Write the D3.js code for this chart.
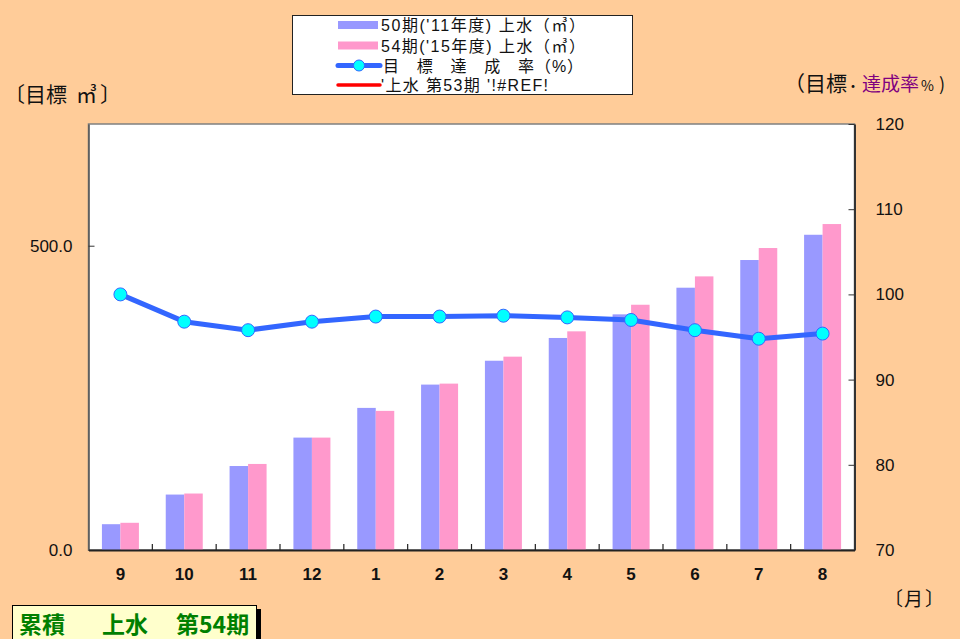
<!DOCTYPE html>
<html><head><meta charset="utf-8">
<script src="https://cdn.jsdelivr.net/npm/d3@7"></script>
<style>
html,body{margin:0;padding:0;background:#FFCC99;}
svg{display:block;}
</style></head>
<body>
<svg id="c" width="960" height="639"></svg>
<script>
const months = ["9","10","11","12","1","2","3","4","5","6","7","8"];
const series50 = [42.4, 91.1, 138.0, 184.7, 233.5, 271.8, 311.0, 348.4, 387.2, 431.0, 476.5, 518.0];
const series54 = [44.7, 92.8, 141.4, 184.7, 228.6, 273.4, 317.7, 359.3, 403.0, 449.6, 496.2, 535.6];
const rate = [100.0, 96.8, 95.8, 96.8, 97.4, 97.4, 97.5, 97.3, 97.0, 95.8, 94.8, 95.4];
const leftTicks = [0, 500];
const rightTicks = [70, 80, 90, 100, 110, 120];
const legendLabels = ["50期('11年度) 上水（㎥）", "54期('15年度) 上水（㎥）", "目　標　達　成　率（%）", "'上水 第53期 '!#REF!"];
const legendWidths = [204, 204, 200, 167];

const svg = d3.select("#c");
const jp = "'Noto Sans CJK JP', 'Liberation Sans', sans-serif";
const latjp = "'Liberation Sans', 'Noto Sans CJK JP', sans-serif";
const num = "'Liberation Sans', Arial, sans-serif";

svg.append("rect").attr("width",960).attr("height",639).attr("fill","#FFCC99");

const L = 88.5, R = 854.5, T = 124, B = 550;
const x = d3.scaleBand().domain(months).range([L, R]).paddingInner(0).paddingOuter(0);
const yL = d3.scaleLinear().domain([0, 700]).range([B, T]);
const yR = d3.scaleLinear().domain([70, 120]).range([B, T]);

// plot area
svg.append("rect").attr("x",L).attr("y",T).attr("width",R-L).attr("height",B-T)
  .attr("fill","#fff").attr("stroke","#808080").attr("stroke-width",1.5);

// bars
const bw = 18.5;
const g = svg.append("g");
months.forEach((m,i)=>{
  const cx = x(m) + x.bandwidth()/2;
  g.append("rect").attr("x", cx - bw).attr("width", bw)
    .attr("y", yL(series50[i])).attr("height", yL(0)-yL(series50[i]))
    .attr("fill","#9999FF");
  g.append("rect").attr("x", cx).attr("width", bw)
    .attr("y", yL(series54[i])).attr("height", yL(0)-yL(series54[i]))
    .attr("fill","#FF99CC");
});

// axes
const axL = d3.axisLeft(yL).tickValues(leftTicks).tickFormat(d3.format(".1f")).tickSizeInner(-6).tickSizeOuter(0).tickPadding(16);
const gl = svg.append("g").attr("transform",`translate(${L},0)`).call(axL);
gl.select(".domain").attr("stroke","#555").attr("stroke-width",1.5);
gl.selectAll(".tick line").attr("stroke","#333");
gl.selectAll("text").attr("font-family",num).attr("font-size",17).attr("fill","#111");

const axR = d3.axisRight(yR).tickValues(rightTicks).tickSizeInner(-6).tickSizeOuter(0).tickPadding(21);
const gr = svg.append("g").attr("transform",`translate(${R},0)`).call(axR);
gr.select(".domain").attr("stroke","#333").attr("stroke-width",2);
gr.selectAll(".tick line").attr("stroke","#333");
gr.selectAll("text").attr("font-family",num).attr("font-size",17).attr("fill","#111");

const axB = d3.axisBottom(x).tickSize(0).tickPadding(18);
const gb = svg.append("g").attr("transform",`translate(0,${B})`).call(axB);
gb.select(".domain").attr("stroke","#222").attr("stroke-width",2);
gb.selectAll("text").attr("font-family",num).attr("font-size",17).attr("font-weight","bold").attr("fill","#111");
months.slice(1).forEach(m=>{
  svg.append("line").attr("x1",x(m)).attr("x2",x(m)).attr("y1",B).attr("y2",B-6).attr("stroke","#222").attr("stroke-width",1.2);
});

// line
const line = d3.line().x((d,i)=>x(months[i])+x.bandwidth()/2).y(d=>yR(d));
svg.append("path").datum(rate).attr("d",line).attr("fill","none").attr("stroke","#3366FF").attr("stroke-width",5).attr("stroke-linejoin","round");
svg.selectAll(".pt").data(rate).enter().append("circle")
  .attr("cx",(d,i)=>x(months[i])+x.bandwidth()/2).attr("cy",d=>yR(d)).attr("r",6.5)
  .attr("fill","#00FFFF").attr("stroke","#3366FF").attr("stroke-width",1);

// left axis title
const lt = svg.append("text").attr("y",102).attr("font-family",jp).attr("font-size",21).attr("fill","#111");
lt.append("tspan").attr("x",4).text("〔");
lt.append("tspan").attr("x",25).text("目標");
lt.append("tspan").attr("x",76).text("㎥");
lt.append("tspan").attr("x",100).text("〕");

// right axis title
const rt = svg.append("text").attr("y",91).attr("font-family",jp).attr("font-size",21).attr("fill","#111");
rt.append("tspan").attr("x",784).text("（");
rt.append("tspan").attr("x",805).text("目標");
rt.append("tspan").attr("x",846).attr("font-size",14).text("・");
rt.append("tspan").attr("x",862).attr("font-size",19).attr("fill","#800080").text("達成率");
rt.append("tspan").attr("x",921).attr("font-size",14).text("%");
rt.append("tspan").attr("x",939).attr("font-size",18).text(")");

// month unit
const mt = svg.append("text").attr("y",606).attr("font-family",jp).attr("font-size",19).attr("fill","#111");
mt.append("tspan").attr("x",884).text("〔");
mt.append("tspan").attr("x",904).text("月");
mt.append("tspan").attr("x",925).text("〕");

// legend
const lg = svg.append("g");
lg.append("rect").attr("x",292.5).attr("y",15.5).attr("width",340).attr("height",79).attr("fill","#fff").attr("stroke","#222").attr("stroke-width",1);
const ly = [25, 45.5, 65.5, 85];
lg.append("rect").attr("x",338).attr("y",ly[0]-4).attr("width",40).attr("height",8).attr("fill","#9999FF");
lg.append("rect").attr("x",338).attr("y",ly[1]-4).attr("width",40).attr("height",8).attr("fill","#FF99CC");
lg.append("line").attr("x1",338).attr("x2",380).attr("y1",ly[2]).attr("y2",ly[2]).attr("stroke","#3366FF").attr("stroke-width",5).attr("stroke-linecap","round");
lg.append("circle").attr("cx",359).attr("cy",ly[2]).attr("r",5.5).attr("fill","#00FFFF").attr("stroke","#3366FF");
lg.append("line").attr("x1",338).attr("x2",380).attr("y1",ly[3]).attr("y2",ly[3]).attr("stroke","#FF0000").attr("stroke-width",3.5).attr("stroke-linecap","round");
legendLabels.forEach((t,i)=>{
  lg.append("text").attr("x",i===2?383:381).attr("y",ly[i]+6).attr("font-family",latjp).attr("font-size",16).attr("fill","#111")
    .attr("textLength",legendWidths[i]).attr("lengthAdjust","spacing").text(t);
});

// bottom-left label box
svg.append("rect").attr("x",16).attr("y",609).attr("width",245).attr("height",40).attr("fill","#000");
svg.append("rect").attr("x",12.5).attr("y",605.5).attr("width",244).attr("height",40).attr("fill","#FFFFCC").attr("stroke","#000").attr("stroke-width",1);
const boxText = [["累積",19],["上水",102],["第54期",176]];
boxText.forEach(([t,px])=>{
  svg.append("text").attr("x",px).attr("y",633).attr("font-family",jp).attr("font-size",23).attr("font-weight","bold").attr("fill","#008000").text(t);
});
</script>
</body></html>
